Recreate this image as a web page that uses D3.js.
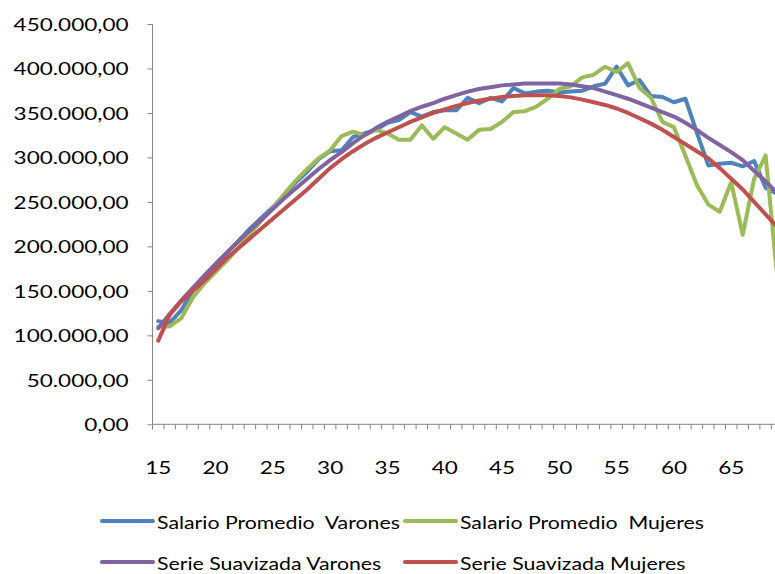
<!DOCTYPE html>
<html>
<head>
<meta charset="utf-8">
<script src="https://cdn.jsdelivr.net/npm/d3@7"></script>
<style>
  html, body { margin: 0; padding: 0; background: #fff; overflow: hidden; }
  text { font-family: Lato, "Liberation Sans", sans-serif; fill: #000; }
</style>
</head>
<body>
<svg id="chart" width="775" height="574"></svg>
<script>
// categories (age)
const ages = [15,16,17,18,19,20,21,22,23,24,25,26,27,28,29,30,31,32,33,34,35,36,37,38,39,40,41,42,
  43,44,45,46,47,48,49,50,51,52,53,54,55,56,57,58,59,60,61,62,63,64,65,66,67,68,69];
const ageLabels = [15,20,25,30,35,40,45,50,55,60,65];
const yTicks = [0,50000,100000,150000,200000,250000,300000,350000,400000,450000];

const salarioVarones = [116000,114000,128000,150000,165000,180000,193000,206000,220000,232000,
  244000,258000,272000,284000,298000,307000,308000,323000,327000,331000,339000,342000,351000,
  346000,351000,353000,353000,367000,361000,367000,363000,378000,372000,374000,375000,373000,
  374000,375000,380000,383000,402000,381000,387000,369000,368000,362000,366000,328000,291000,
  293000,294000,290000,296000,266000,259000];
const salarioMujeres = [110000,110000,119000,142000,158000,171000,184000,199000,214000,229000,
  243000,259000,274000,287000,299000,308000,324000,329000,325000,331000,327000,320000,320000,
  336000,321000,334000,327000,320000,331000,332000,340000,351000,352000,357000,366000,377000,
  380000,390000,393000,402000,396000,406000,378000,367000,340000,334000,302000,269000,247000,
  239000,272000,213000,276000,302000,168000];
const suavizadaVarones = [108000,124000,139000,153000,167000,180000,193000,206000,218000,230000,
  242000,254000,265000,276000,287000,297000,306000,316000,325000,333000,340000,346000,352000,
  357000,361000,366000,370000,374000,377000,379000,381000,382000,383000,383000,383000,383000,
  382000,380000,378000,374000,370000,366000,361000,356000,351000,346000,339000,331000,322000,
  314000,306000,297000,285000,273000,260000];
const suavizadaMujeres = [94000,123000,138000,150000,161000,174000,187000,198000,209000,220000,
  231000,242000,253000,264000,276000,288000,298000,307000,315000,322000,328000,334000,340000,
  345000,350000,354000,358000,361000,364000,366000,368000,369000,370000,370000,370000,369000,
  367500,365000,362000,359000,355000,350000,344000,338000,331000,323000,315000,307000,299000,
  288000,276000,264000,250000,236000,222000];

const seriesNames = ["Salario Promedio  Varones", "Salario Promedio  Mujeres",
  "Serie Suavizada Varones", "Serie Suavizada Mujeres"];
const seriesColors = ["#4F81BD", "#9BBB59", "#8064A2", "#C0504D"];
const seriesValues = [salarioVarones, salarioMujeres, suavizadaVarones, suavizadaMujeres];

const svg = d3.select('#chart');
const axisColor = '#868686';

let plotLeft = 152.5,
    plotTop = 24,
    plotBottom = 424.3,
    catWidth = 11.46;

const x = d3.scaleBand()
  .domain(ages)
  .range([plotLeft, plotLeft + ages.length * catWidth])
  .paddingInner(0).paddingOuter(0);

const y = d3.scaleLinear()
  .domain([0, 450000])
  .range([plotBottom, plotTop]);

const numFmt = d3.formatLocale({decimal: ',', thousands: '.', grouping: [3], currency: ['', '']}).format(',.2f');

// horizontal stretch of the text, measured on the widest y label
const probe = svg.append('text').style('font-size', '18px').text('450.000,00');
const sx = 115 / probe.node().getComputedTextLength();
probe.remove();

function stretch(sel){
  sel.each(function(){
    const t = d3.select(this);
    const tx = +t.attr('x') || 0;
    t.attr('transform', 'translate(' + tx + ',0) scale(' + sx + ',1) translate(' + (-tx) + ',0)');
  });
}

// y axis
const yAxis = d3.axisLeft(y)
  .tickValues(yTicks)
  .tickSize(5)
  .tickPadding(19)
  .tickFormat(numFmt);

const gy = svg.append('g')
  .attr('transform', 'translate(' + plotLeft + ',0)')
  .call(yAxis);
gy.select('.domain').attr('stroke', axisColor).attr('d', 'M0,' + plotTop + 'V' + plotBottom);
gy.selectAll('.tick line').attr('stroke', axisColor);
gy.selectAll('.tick text')
  .style('font-size', '18px')
  .attr('dy', '0.36em')
  .call(stretch);

// x axis (labels centered in categories, ticks at category borders)
const xAxis = d3.axisBottom(x)
  .tickValues(ageLabels)
  .tickSize(0)
  .tickPadding(0);

const gx = svg.append('g')
  .attr('transform', 'translate(0,' + plotBottom + ')')
  .call(xAxis);
gx.select('.domain').attr('stroke', axisColor).attr('d', 'M' + plotLeft + ',0H' + x.range()[1]);
gx.selectAll('.tick text')
  .style('font-size', '18px')
  .attr('y', 43)
  .attr('dy', '0.36em')
  .call(stretch);

gx.selectAll('.border')
  .data(ages.concat([null]))
  .enter().append('line')
    .attr('class', 'border')
    .attr('x1', (d, i) => plotLeft + i * x.bandwidth())
    .attr('x2', (d, i) => plotLeft + i * x.bandwidth())
    .attr('y1', 0)
    .attr('y2', 5)
    .attr('stroke', axisColor);

// lines
const line = d3.line()
  .x((d, i) => x(ages[i]) + x.bandwidth() / 2)
  .y(d => y(d));

seriesValues.forEach((vals, i) => {
  svg.append('path')
    .datum(vals)
    .attr('fill', 'none')
    .attr('stroke', seriesColors[i])
    .attr('stroke-width', 4)
    .attr('stroke-linejoin', 'round')
    .attr('stroke-linecap', 'round')
    .attr('d', line);
});

// legend
const legendPos = [[102, 521], [405, 521], [102, 562], [405, 562]];

seriesNames.forEach((name, i) => {
  const p = legendPos[i];
  const g = svg.append('g');
  g.append('line')
    .attr('x1', p[0]).attr('x2', p[0] + 51)
    .attr('y1', p[1]).attr('y2', p[1])
    .attr('stroke', seriesColors[i])
    .attr('stroke-width', 4)
    .attr('stroke-linecap', 'round');
  g.append('text')
    .attr('x', p[0] + 55)
    .attr('y', p[1] + 1.5)
    .attr('dy', '0.36em')
    .style('font-size', '17px')
    .style('white-space', 'pre')
    .text(name)
    .call(stretch);
});
</script>
</body>
</html>
